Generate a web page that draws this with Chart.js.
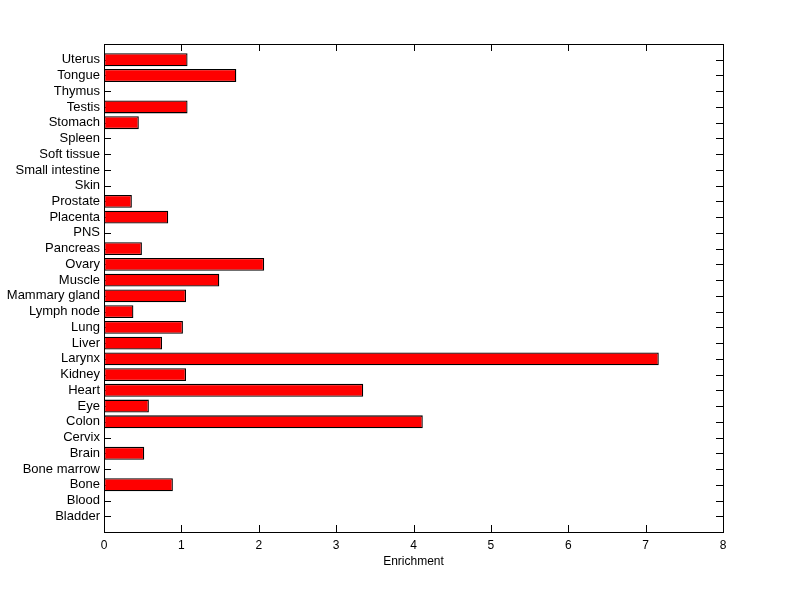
<!DOCTYPE html>
<html>
<head>
<meta charset="utf-8">
<script src="https://cdn.jsdelivr.net/npm/chart.js@4/dist/chart.umd.min.js"></script>
<style>
  html, body { margin: 0; padding: 0; background: #fff; }
  #wrap { width: 800px; height: 599px; position: relative; }
</style>
</head>
<body>
<div id="wrap"><canvas id="enrich_chart"></canvas></div>
<script>
// tissues, listed top to bottom as they appear
const tissues = ["Uterus", "Tongue", "Thymus", "Testis", "Stomach", "Spleen", "Soft tissue",
  "Small intestine", "Skin", "Prostate", "Placenta", "PNS", "Pancreas", "Ovary", "Muscle",
  "Mammary gland", "Lymph node", "Lung", "Liver", "Larynx", "Kidney", "Heart", "Eye", "Colon",
  "Cervix", "Brain", "Bone marrow", "Bone", "Blood", "Bladder"];
const enrichment = [1.08, 1.71, 0, 1.08, 0.45, 0, 0,
  0, 0, 0.36, 0.83, 0, 0.49, 2.07, 1.49,
  1.06, 0.38, 1.02, 0.75, 7.17, 1.06, 3.35, 0.58, 4.12,
  0, 0.52, 0, 0.89, 0, 0];
const x_ticks = [0, 1, 2, 3, 4, 5, 6, 7, 8];

const FONT = "'Liberation Sans', Arial, sans-serif";
const TICK_LEN = 7;

// blank slots at both ends give the one-unit gap matlab leaves
const labels = [""].concat(tissues, [""]);
const values = [null].concat(enrichment, [null]);

// inward ticks go under the bars, the box goes on top
const matlab_axes = {
  id: "matlab_axes",
  beforeDatasetsDraw: function(chart) {
    const ctx = chart.ctx;
    const area = chart.chartArea;
    const xs = chart.scales.x;
    const ys = chart.scales.y;
    ctx.save();
    ctx.strokeStyle = "#000";
    ctx.lineWidth = 1;
    ctx.beginPath();
    x_ticks.forEach(function(v) {
      const px = Math.round(xs.getPixelForValue(v)) + 0.5;
      ctx.moveTo(px, area.bottom);
      ctx.lineTo(px, area.bottom - TICK_LEN);
      ctx.moveTo(px, area.top);
      ctx.lineTo(px, area.top + TICK_LEN);
    });
    for (let i = 1; i <= tissues.length; i++) {
      const py = Math.round(ys.getPixelForTick(i)) + 0.5;
      ctx.moveTo(area.left, py);
      ctx.lineTo(area.left + TICK_LEN, py);
      ctx.moveTo(area.right, py);
      ctx.lineTo(area.right - TICK_LEN, py);
    }
    ctx.stroke();
    ctx.restore();
  },
  afterDatasetsDraw: function(chart) {
    const ctx = chart.ctx;
    const area = chart.chartArea;
    ctx.save();
    ctx.strokeStyle = "#000";
    ctx.lineWidth = 1;
    ctx.strokeRect(Math.round(area.left) + 0.5, Math.round(area.top) + 0.5,
      Math.round(area.right - area.left), Math.round(area.bottom - area.top));
    ctx.restore();
  }
};

new Chart("enrich_chart", {
  type: "bar",
  data: {
    labels: labels,
    datasets: [{
      data: values,
      backgroundColor: "#ff0000",
      borderColor: "#000000",
      borderWidth: 1.3,
      borderSkipped: false,
      barPercentage: 0.82,
      categoryPercentage: 1.0
    }]
  },
  options: {
    indexAxis: "y",
    responsive: true,
    maintainAspectRatio: false,
    animation: false,
    layout: { padding: { top: 44, right: 77, left: 0, bottom: 30 } },
    plugins: {
      legend: { display: false },
      tooltip: { enabled: false }
    },
    scales: {
      x: {
        type: "linear",
        min: 0,
        max: 8,
        afterBuildTicks: function(scale) {
          scale.ticks = x_ticks.map(function(v) { return { value: v }; });
        },
        afterFit: function(scale) { scale.height = 37; },
        grid: { display: false, drawTicks: false },
        border: { display: false },
        ticks: { color: "#000", padding: 6, font: { family: FONT, size: 12 } },
        title: {
          display: true,
          text: "Enrichment",
          color: "#000",
          padding: { top: 0, bottom: 0 },
          font: { family: FONT, size: 12 }
        }
      },
      y: {
        type: "category",
        offset: false,
        afterFit: function(scale) { scale.width = 104; },
        grid: { display: false, drawTicks: false },
        border: { display: false },
        ticks: { color: "#000", padding: 4, autoSkip: false, font: { family: FONT, size: 13 } }
      }
    }
  },
  plugins: [matlab_axes]
});
</script>
</body>
</html>
